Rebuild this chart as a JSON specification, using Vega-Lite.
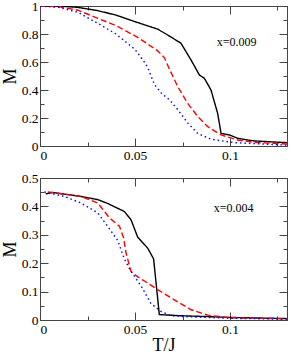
{
  "$schema": "https://vega.github.io/schema/vega-lite/v6.json",
  "padding": {"left": 0, "top": -2, "right": 0, "bottom": 0},
  "background": "white",
  "datasets": {
    "top": [
      {"s": "k", "T": 0, "M": 1}, {"s": "k", "T": 0.01, "M": 1}, {"s": "k", "T": 0.02, "M": 0.99}, {"s": "k", "T": 0.03, "M": 0.968}, {"s": "k", "T": 0.04, "M": 0.935}, {"s": "k", "T": 0.05, "M": 0.888}, {"s": "k", "T": 0.0567, "M": 0.858}, {"s": "k", "T": 0.0619, "M": 0.835}, {"s": "k", "T": 0.0672, "M": 0.793}, {"s": "k", "T": 0.0742, "M": 0.734}, {"s": "k", "T": 0.0795, "M": 0.614}, {"s": "k", "T": 0.0839, "M": 0.507}, {"s": "k", "T": 0.0865, "M": 0.484}, {"s": "k", "T": 0.09, "M": 0.4}, {"s": "k", "T": 0.0935, "M": 0.233}, {"s": "k", "T": 0.0953, "M": 0.09}, {"s": "k", "T": 0.0997, "M": 0.079}, {"s": "k", "T": 0.104, "M": 0.055}, {"s": "k", "T": 0.1093, "M": 0.043}, {"s": "k", "T": 0.1128, "M": 0.036}, {"s": "k", "T": 0.13, "M": 0.024},
      {"s": "r", "T": 0, "M": 1}, {"s": "r", "T": 0.01, "M": 0.995}, {"s": "r", "T": 0.02, "M": 0.97}, {"s": "r", "T": 0.0304, "M": 0.912}, {"s": "r", "T": 0.04, "M": 0.86}, {"s": "r", "T": 0.0514, "M": 0.776}, {"s": "r", "T": 0.0567, "M": 0.728}, {"s": "r", "T": 0.0619, "M": 0.68}, {"s": "r", "T": 0.0655, "M": 0.63}, {"s": "r", "T": 0.0681, "M": 0.55}, {"s": "r", "T": 0.0725, "M": 0.424}, {"s": "r", "T": 0.0777, "M": 0.305}, {"s": "r", "T": 0.083, "M": 0.21}, {"s": "r", "T": 0.0883, "M": 0.138}, {"s": "r", "T": 0.0953, "M": 0.079}, {"s": "r", "T": 0.104, "M": 0.043}, {"s": "r", "T": 0.1128, "M": 0.026}, {"s": "r", "T": 0.13, "M": 0.014},
      {"s": "b", "T": 0, "M": 1}, {"s": "b", "T": 0.01, "M": 0.99}, {"s": "b", "T": 0.02, "M": 0.955}, {"s": "b", "T": 0.0304, "M": 0.876}, {"s": "b", "T": 0.04, "M": 0.8}, {"s": "b", "T": 0.05, "M": 0.69}, {"s": "b", "T": 0.0549, "M": 0.6}, {"s": "b", "T": 0.0567, "M": 0.56}, {"s": "b", "T": 0.0602, "M": 0.44}, {"s": "b", "T": 0.0637, "M": 0.38}, {"s": "b", "T": 0.0681, "M": 0.33}, {"s": "b", "T": 0.0725, "M": 0.26}, {"s": "b", "T": 0.0777, "M": 0.165}, {"s": "b", "T": 0.083, "M": 0.09}, {"s": "b", "T": 0.09, "M": 0.048}, {"s": "b", "T": 0.1023, "M": 0.024}, {"s": "b", "T": 0.13, "M": 0.006}
    ],
    "bot": [
      {"s": "k", "T": 0.003, "M": 0.444}, {"s": "k", "T": 0.0067, "M": 0.449}, {"s": "k", "T": 0.0198, "M": 0.437}, {"s": "k", "T": 0.0304, "M": 0.424}, {"s": "k", "T": 0.0357, "M": 0.41}, {"s": "k", "T": 0.0444, "M": 0.382}, {"s": "k", "T": 0.0479, "M": 0.353}, {"s": "k", "T": 0.0514, "M": 0.292}, {"s": "k", "T": 0.0567, "M": 0.253}, {"s": "k", "T": 0.0598, "M": 0.215}, {"s": "k", "T": 0.0628, "M": 0.019}, {"s": "k", "T": 0.0742, "M": 0.015}, {"s": "k", "T": 0.0883, "M": 0.012}, {"s": "k", "T": 0.1, "M": 0.009}, {"s": "k", "T": 0.13, "M": 0.005},
      {"s": "r", "T": 0.0041, "M": 0.451}, {"s": "r", "T": 0.0216, "M": 0.435}, {"s": "r", "T": 0.0304, "M": 0.412}, {"s": "r", "T": 0.0365, "M": 0.36}, {"s": "r", "T": 0.0418, "M": 0.33}, {"s": "r", "T": 0.044, "M": 0.29}, {"s": "r", "T": 0.0453, "M": 0.235}, {"s": "r", "T": 0.0479, "M": 0.171}, {"s": "r", "T": 0.0514, "M": 0.152}, {"s": "r", "T": 0.0567, "M": 0.13}, {"s": "r", "T": 0.0619, "M": 0.107}, {"s": "r", "T": 0.0707, "M": 0.071}, {"s": "r", "T": 0.0795, "M": 0.036}, {"s": "r", "T": 0.0883, "M": 0.017}, {"s": "r", "T": 0.1, "M": 0.008}, {"s": "r", "T": 0.13, "M": 0.004},
      {"s": "b", "T": 0.0023, "M": 0.451}, {"s": "b", "T": 0.0128, "M": 0.435}, {"s": "b", "T": 0.0216, "M": 0.412}, {"s": "b", "T": 0.0304, "M": 0.377}, {"s": "b", "T": 0.0356, "M": 0.33}, {"s": "b", "T": 0.0409, "M": 0.28}, {"s": "b", "T": 0.0444, "M": 0.215}, {"s": "b", "T": 0.0479, "M": 0.171}, {"s": "b", "T": 0.0532, "M": 0.12}, {"s": "b", "T": 0.0584, "M": 0.058}, {"s": "b", "T": 0.0637, "M": 0.03}, {"s": "b", "T": 0.069, "M": 0.015}, {"s": "b", "T": 0.076, "M": 0.012}, {"s": "b", "T": 0.1, "M": 0.006}, {"s": "b", "T": 0.13, "M": 0.003}
    ],
    "labtop": [{"T": 0.093, "M": 0.745, "t": "x=0.009"}],
    "labbot": [{"T": 0.0914, "M": 0.394, "t": "x=0.004"}]
  },
  "spacing": 8,
  "vconcat": [
    {
      "width": 247, "height": 140,
      "resolve": {"axis": {"x": "independent", "y": "independent"}},
      "layer": [
        {
          "data": {"name": "top"},
          "mark": {"type": "line", "strokeWidth": 1.4, "clip": true},
          "encoding": {
            "x": {"field": "T", "type": "quantitative", "scale": {"domain": [0, 0.13], "nice": false},
              "axis": {"orient": "bottom", "title": null, "values": [0, 0.025, 0.05, 0.075, 0.1, 0.125], "grid": false,
                "labelExpr": "abs(datum.value*20 - round(datum.value*20)) < 0.001 ? format(datum.value, '~g') : ''",
                "tickSize": {"condition": {"test": "abs(datum.value*20 - round(datum.value*20)) < 0.001", "value": -8}, "value": -4}}},
            "y": {"field": "M", "type": "quantitative", "scale": {"domain": [0, 1], "nice": false},
              "axis": {"orient": "left", "title": "M", "values": [0, 0.1, 0.2, 0.3, 0.4, 0.5, 0.6, 0.7, 0.8, 0.9, 1], "grid": false,
                "labelExpr": "abs(datum.value*5 - round(datum.value*5)) < 0.001 ? format(datum.value, '~g') : ''",
                "tickSize": {"condition": {"test": "abs(datum.value*5 - round(datum.value*5)) < 0.001", "value": -8}, "value": -4}}},
            "color": {"field": "s", "type": "nominal", "scale": {"domain": ["k", "r", "b"], "range": ["#000000", "#ff0000", "#0000ff"]}, "legend": null},
            "strokeDash": {"field": "s", "type": "nominal", "scale": {"domain": ["k", "r", "b"], "range": [[1, 0], [6, 3], [1.5, 3]]}, "legend": null}
          }
        },
        {
          "data": {"name": "labtop"},
          "mark": {"type": "text", "align": "left", "baseline": "middle", "font": "Liberation Serif", "fontSize": 12},
          "encoding": {
            "x": {"field": "T", "type": "quantitative", "axis": null},
            "y": {"field": "M", "type": "quantitative", "axis": null},
            "text": {"field": "t"}
          }
        },
        {
          "data": {"name": "labtop"},
          "mark": {"type": "point", "opacity": 0},
          "encoding": {
            "x": {"field": "T", "type": "quantitative",
              "axis": {"orient": "top", "title": null, "labels": false, "values": [0, 0.025, 0.05, 0.075, 0.1, 0.125], "grid": false,
                "tickSize": {"condition": {"test": "abs(datum.value*20 - round(datum.value*20)) < 0.001", "value": -8}, "value": -4}}},
            "y": {"field": "M", "type": "quantitative",
              "axis": {"orient": "right", "title": null, "labels": false, "values": [0, 0.1, 0.2, 0.3, 0.4, 0.5, 0.6, 0.7, 0.8, 0.9, 1], "grid": false,
                "tickSize": {"condition": {"test": "abs(datum.value*5 - round(datum.value*5)) < 0.001", "value": -8}, "value": -4}}}
          }
        }
      ]
    },
    {
      "width": 247, "height": 142,
      "resolve": {"axis": {"x": "independent", "y": "independent"}},
      "layer": [
        {
          "data": {"name": "bot"},
          "mark": {"type": "line", "strokeWidth": 1.4, "clip": true},
          "encoding": {
            "x": {"field": "T", "type": "quantitative", "scale": {"domain": [0, 0.13], "nice": false},
              "axis": {"orient": "bottom", "title": "T/J", "values": [0, 0.025, 0.05, 0.075, 0.1, 0.125], "grid": false,
                "labelExpr": "abs(datum.value*20 - round(datum.value*20)) < 0.001 ? format(datum.value, '~g') : ''",
                "tickSize": {"condition": {"test": "abs(datum.value*20 - round(datum.value*20)) < 0.001", "value": -8}, "value": -4}}},
            "y": {"field": "M", "type": "quantitative", "scale": {"domain": [0, 0.5], "nice": false},
              "axis": {"orient": "left", "title": "M", "values": [0, 0.05, 0.1, 0.15, 0.2, 0.25, 0.3, 0.35, 0.4, 0.45, 0.5], "grid": false,
                "labelExpr": "abs(datum.value*10 - round(datum.value*10)) < 0.001 ? format(datum.value, '~g') : ''",
                "tickSize": {"condition": {"test": "abs(datum.value*10 - round(datum.value*10)) < 0.001", "value": -8}, "value": -4}}},
            "color": {"field": "s", "type": "nominal", "scale": {"domain": ["k", "r", "b"], "range": ["#000000", "#ff0000", "#0000ff"]}, "legend": null},
            "strokeDash": {"field": "s", "type": "nominal", "scale": {"domain": ["k", "r", "b"], "range": [[1, 0], [6, 3], [1.5, 3]]}, "legend": null}
          }
        },
        {
          "data": {"name": "labbot"},
          "mark": {"type": "text", "align": "left", "baseline": "middle", "font": "Liberation Serif", "fontSize": 12},
          "encoding": {
            "x": {"field": "T", "type": "quantitative", "axis": null},
            "y": {"field": "M", "type": "quantitative", "axis": null},
            "text": {"field": "t"}
          }
        },
        {
          "data": {"name": "labbot"},
          "mark": {"type": "point", "opacity": 0},
          "encoding": {
            "x": {"field": "T", "type": "quantitative",
              "axis": {"orient": "top", "title": null, "labels": false, "values": [0, 0.025, 0.05, 0.075, 0.1, 0.125], "grid": false,
                "tickSize": {"condition": {"test": "abs(datum.value*20 - round(datum.value*20)) < 0.001", "value": -8}, "value": -4}}},
            "y": {"field": "M", "type": "quantitative",
              "axis": {"orient": "right", "title": null, "labels": false, "values": [0, 0.05, 0.1, 0.15, 0.2, 0.25, 0.3, 0.35, 0.4, 0.45, 0.5], "grid": false,
                "tickSize": {"condition": {"test": "abs(datum.value*10 - round(datum.value*10)) < 0.001", "value": -8}, "value": -4}}}
          }
        }
      ]
    }
  ],
  "config": {
    "view": {"stroke": "#444444", "strokeWidth": 1},
    "axis": {
      "domainColor": "#444444", "domainWidth": 1, "tickColor": "#444444", "tickWidth": 1,
      "labelFont": "Liberation Serif", "labelFontSize": 13.5, "labelColor": "#000000", "labelPadding": 10,
      "titleFont": "Liberation Serif", "titleFontSize": 18, "titleFontWeight": "normal", "titleColor": "#000000"
    },
    "axisLeft": {"titlePadding": 2},
    "axisBottom": {"titlePadding": 1}
  }
}
